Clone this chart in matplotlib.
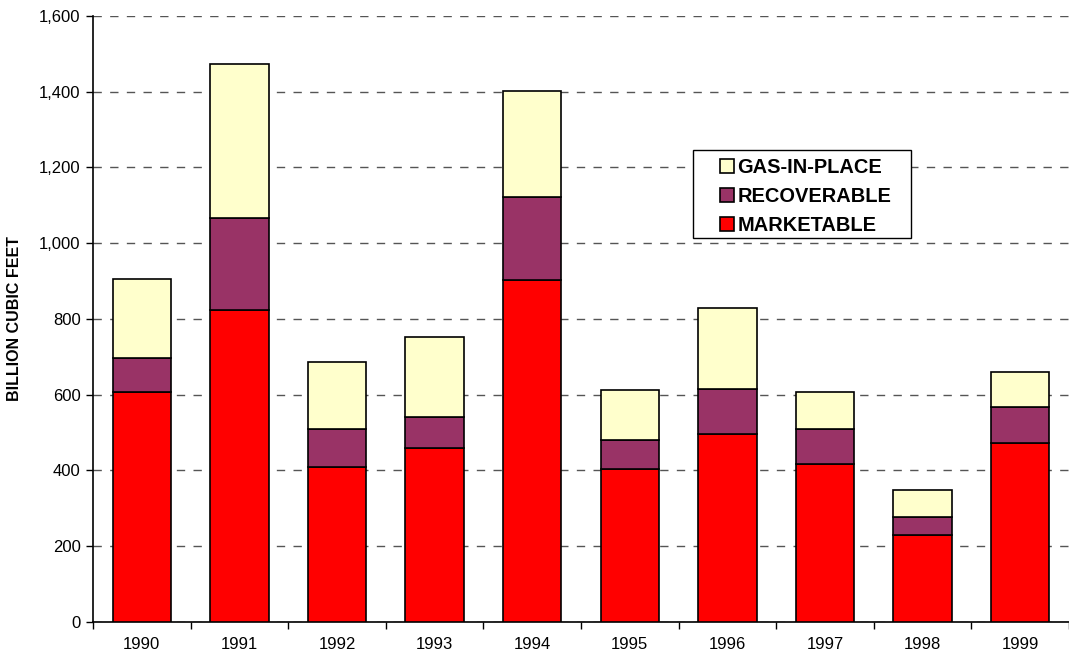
import matplotlib
matplotlib.use("Agg")
import matplotlib.pyplot as plt
from matplotlib.patches import Rectangle
import numpy as np

years = ["1990", "1991", "1992", "1993", "1994", "1995", "1996", "1997", "1998", "1999"]
marketable = [607, 823, 409, 459, 902, 404, 496, 417, 230, 472]
recoverable = [90, 243, 100, 82, 219, 76, 119, 92, 47, 95]
gas_in_place = [208, 406, 177, 211, 280, 132, 213, 98, 71, 93]

plt.rcParams['font.family'] = ['Liberation Sans', 'DejaVu Sans']

fig = plt.figure(figsize=(10.69, 6.56), dpi=100)
ax = fig.add_axes([0.087, 0.052, 0.913, 0.924])

x = np.arange(len(years))
w = 0.6
m = np.array(marketable)
r = np.array(recoverable)
g = np.array(gas_in_place)
b1 = ax.bar(x, m, w, color="#FF0000", edgecolor="black", linewidth=1.2, label="MARKETABLE", zorder=3)
b2 = ax.bar(x, r, w, bottom=m, color="#993366", edgecolor="black", linewidth=1.2, label="RECOVERABLE", zorder=3)
b3 = ax.bar(x, g, w, bottom=m + r, color="#FFFFCC", edgecolor="black", linewidth=1.2, label="GAS-IN-PLACE", zorder=3)

ax.set_xlim(-0.5, len(years) - 0.5)
ax.set_ylim(0, 1600)
ax.set_yticks(np.arange(0, 1601, 200))
ax.set_yticklabels([f"{v:,}" for v in range(0, 1601, 200)], fontsize=12)
ax.set_xticks(x)
ax.set_xticklabels(years, fontsize=12)
ax.set_xticks(np.arange(-0.5, len(years), 1), minor=True)
ax.tick_params(axis="x", which="major", length=0, pad=11)
ax.tick_params(axis="x", which="minor", length=5, width=1)
ax.tick_params(axis="y", length=5, width=1, direction="out", pad=4)
ax.yaxis.grid(True, linestyle=(0, (6, 6)), color="#555555", linewidth=1, zorder=0)
ax.set_axisbelow(True)
for s in ["top", "right"]:
    ax.spines[s].set_visible(False)
ax.spines["left"].set_linewidth(1.2)
ax.spines["bottom"].set_linewidth(1.2)

ax.set_ylabel("BILLION CUBIC FEET", fontsize=11.5, fontweight="bold", labelpad=12)

# legend frame drawn separately (wide horizontal padding)
ax.add_patch(Rectangle((0.615, 0.634), 0.223, 0.145, transform=ax.transAxes,
                       facecolor="white", edgecolor="black", linewidth=1, zorder=5))
leg = ax.legend(handles=[b3, b2, b1], loc="upper left", bbox_to_anchor=(0.642, 0.765),
                borderaxespad=0, frameon=False,
                prop={"weight": "bold", "size": 14.4}, handlelength=0.7, handleheight=0.7,
                handletextpad=0.2, borderpad=0, labelspacing=0.5)
leg.set_zorder(6)

fig.savefig("out.png", dpi=100)
